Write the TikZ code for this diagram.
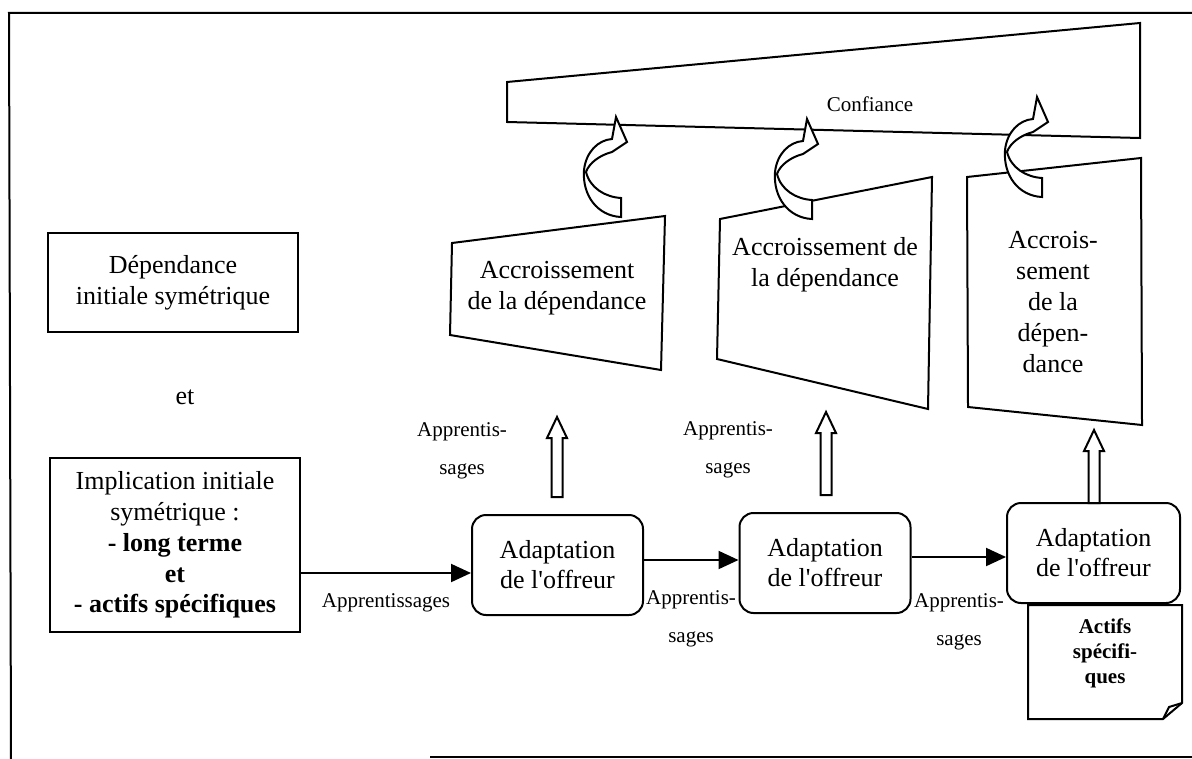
\documentclass[tikz,border=0pt]{standalone}
\usepackage{fontspec}
\setmainfont{Liberation Serif}[Ligatures={Common,TeXOff}]
\usetikzlibrary{arrows.meta}
\newcommand\hollowup[3]{\draw[shp] (#1-5.5,#2) -- (#1-5.5,#3+21) -- (#1-10,#3+21) -- (#1,#3) -- (#1+10,#3+21) -- (#1+5.5,#3+21) -- (#1+5.5,#2) -- cycle;}
\newcommand\curlarrow[2]{\begin{scope}[shift={(#1,#2)}]
\draw[shp] (621,217) .. controls (598,216) and (582,196) .. (584,170)
  .. controls (586,152) and (598,140) .. (612,139) -- (616,117) -- (627,142) -- (612,152)
  .. controls (600,155) and (589,163) .. (586,172)
  .. controls (590,188) and (605,197) .. (621,198) -- cycle;
\end{scope}}
\newcommand\offr{de l'offreur}
\begin{document}
\begin{tikzpicture}[x=0.5pt,y=-0.5pt,
  line width=1pt,
  big/.style={font=\fontsize{13}{15.4}\selectfont, align=center, inner sep=0pt},
  small/.style={font=\fontsize{10.5}{19}\selectfont, align=center, inner sep=0pt},
  sqbox/.style={draw, rectangle, inner sep=0pt, big},
  rbox/.style={draw, fill=white, rounded corners=7pt, inner sep=0pt, minimum width=85.5pt, minimum height=50pt, font=\fontsize{13}{15}\selectfont, align=center},
  arr/.style={-{Triangle[length=10pt,width=9pt]}},
  shp/.style={draw, fill=white}
]
\useasboundingbox (0,0) rectangle (1192,759);
% frame
\draw (1192,13) -- (9,13) -- (11,759);
\draw (430,757) -- (1192,757);

% left column
\node[sqbox, minimum width=125pt, minimum height=49.5pt] (dep) at (173,282.5) {Dépendance\\initiale symétrique};
\node[big] (et) at (185,397) {et};
\node[sqbox, minimum width=125pt, minimum height=87pt] (impl) at (175,545) {Implication initiale\\symétrique :\\\textbf{- long terme}\\\textbf{et}\\\textbf{- actifs spécifiques}};

% adaptation boxes
\node[rbox] (ad1) at (557.5,565) {Adaptation\\\offr};
\node[rbox] (ad2) at (825,563) {Adaptation\\\offr};
\node[rbox, minimum width=86.5pt] (ad3) at (1093.5,553) {Adaptation\\\offr};

% horizontal arrows
\coordinate (y0) at (0,573);
\coordinate (y1) at (0,560);
\coordinate (y2) at (0,557);
\draw[arr] (impl.east |- y0) -- (ad1.west |- y0);
\draw[arr] (ad1.east |- y1) -- (ad2.west |- y1);
\draw[arr] (ad2.east |- y2) -- (ad3.west |- y2);
\node[small] (lab0) at (386,603) {Apprentissages};
\node[small] (lab1) at (691,619) {Apprentis-\\sages};
\node[small] (lab2) at (959,622) {Apprentis-\\sages};
\node[small] (lab3) at (462,451) {Apprentis-\\sages};
\node[small] (lab4) at (728,450) {Apprentis-\\sages};

% hollow up arrows
\hollowup{557}{497}{417}
\hollowup{826}{495}{412}
\hollowup{1094}{503}{430}

% confiance
\draw[shp] (507,82) -- (1140,23) -- (1140,138) -- (507,122) -- cycle;
\node[small] (conf) at (870,104) {Confiance};

% dependance trapezoids
\draw[shp] (452,243) -- (665,216) -- (661,370) -- (450,335) -- cycle;
\node[big] (t1) at (557,288) {Accroissement\\de la dépendance};
\draw[shp] (720,219) -- (932,177) -- (928,409) -- (717,359) -- cycle;
\node[big] (t2) at (825,265) {Accroissement de\\la dépendance};
\draw[shp] (967,177) -- (1141,158) -- (1142,425) -- (968,407) -- cycle;
\node[big] (t3) at (1053,302) {Accrois-\\sement\\de la\\dépen-\\dance};

% curved arrows
\curlarrow{0}{0}
\curlarrow{191}{2}
\curlarrow{421}{-20}

% note
\draw[shp] (1028,605) -- (1182,605) -- (1182,703) -- (1163,719) -- (1028,719) -- cycle;
\draw (1163,719) -- (1169,707) -- (1182,703);
\node[font=\fontsize{10.5}{12.5}\selectfont\bfseries, align=center, inner sep=0pt] (note) at (1105,653) {Actifs\\spécifi-\\ques};
\end{tikzpicture}
\end{document}
